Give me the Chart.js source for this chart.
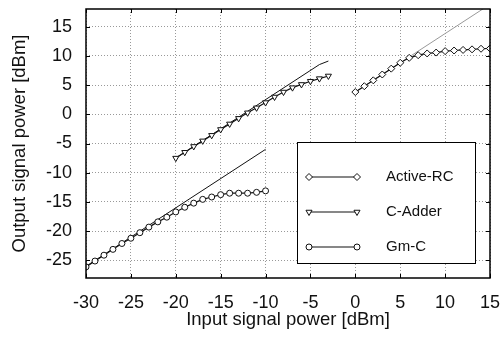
<!DOCTYPE html>
<html>
<head>
<meta charset="utf-8">
<script src="https://cdn.jsdelivr.net/npm/chart.js@4"></script>
<style>
  html, body { margin: 0; padding: 0; background: #fff; }
</style>
</head>
<body>
<canvas id="power-chart" width="503" height="342"></canvas>
<script>
// measured points, input power [dBm] vs output power [dBm]
const activeRcIn = [0, 1, 2, 3, 4, 5, 6, 7, 8, 9, 10, 11, 12, 13, 14, 15]
const activeRcOut = [3.8, 4.8, 5.8, 6.8, 7.8, 8.8, 9.65, 10.1, 10.4, 10.55, 10.8, 10.9, 11.0, 11.1, 11.2, 11.25]

const cAdderIn = [-20, -19, -18, -17, -16, -15, -14, -13, -12, -11, -10, -9, -8, -7, -6, -5, -4, -3]
const cAdderOut = [-7.5, -6.5, -5.5, -4.55, -3.6, -2.6, -1.65, -0.7, 0.25, 1.1, 2.0, 2.95, 3.8, 4.55, 5.1, 5.65, 6.1, 6.55]

const gmcIn = [-30, -29, -28, -27, -26, -25, -24, -23, -22, -21, -20, -19, -18, -17, -16, -15, -14, -13, -12, -11, -10]
const gmcOut = [-26.1, -25.1, -24.1, -23.1, -22.1, -21.2, -20.25, -19.3, -18.4, -17.6, -16.7, -15.9, -15.2, -14.55, -14.15, -13.75, -13.5, -13.5, -13.5, -13.35, -13.1]

// ideal (linear) responses
const activeRcIdealIn = [0, 15]
const activeRcIdealOut = [3.8, 18.8]
const cAdderIdealIn = [-20, -4, -3]
const cAdderIdealOut = [-7.5, 8.5, 9.1]
const gmcIdealIn = [-30, -10]
const gmcIdealOut = [-26, -6]

const xTicks = [-30, -25, -20, -15, -10, -5, 0, 5, 10, 15]
const yTicks = [-25, -20, -15, -10, -5, 0, 5, 10, 15]

const seriesNames = ['Active-RC', 'C-Adder', 'Gm-C']

const FONT = 'Liberation Sans, Arial, sans-serif'

function pairs(xs, ys) {
  return xs.map((x, i) => ({ x: x, y: ys[i] }))
}

function measured(label, xs, ys, style, radius, rotation) {
  return {
    label: label,
    data: pairs(xs, ys),
    showLine: true,
    borderColor: '#111',
    borderWidth: 1.2,
    pointStyle: style,
    pointRotation: rotation,
    pointRadius: radius,
    pointBackgroundColor: '#fff',
    pointBorderColor: '#111',
    pointBorderWidth: 1,
    order: 1
  }
}

function ideal(xs, ys, color) {
  return {
    label: 'ideal',
    data: pairs(xs, ys),
    showLine: true,
    borderColor: color,
    borderWidth: 1,
    pointRadius: 0,
    order: 2
  }
}

const datasets = [
  measured(seriesNames[0], activeRcIn, activeRcOut, 'rectRot', 3.5, 0),
  measured(seriesNames[1], cAdderIn, cAdderOut, 'triangle', 3.5, 180),
  measured(seriesNames[2], gmcIn, gmcOut, 'circle', 3, 0),
  ideal(activeRcIdealIn, activeRcIdealOut, '#999'),
  ideal(cAdderIdealIn, cAdderIdealOut, '#111'),
  ideal(gmcIdealIn, gmcIdealOut, '#111')
]

function noPadding(scale) {
  scale.paddingLeft = 0
  scale.paddingRight = 0
  scale.paddingTop = 0
  scale.paddingBottom = 0
}

// box around the plot with inward tick marks
const framePlugin = {
  id: 'frame',
  afterDatasetsDraw(chart) {
    const ctx = chart.ctx
    const a = chart.chartArea
    const xs = chart.scales.x
    const ys = chart.scales.y
    ctx.save()
    ctx.strokeStyle = '#000'
    ctx.lineWidth = 1
    ctx.beginPath()
    xTicks.forEach(v => {
      const px = Math.round(xs.getPixelForValue(v)) + 0.5
      ctx.moveTo(px, a.bottom); ctx.lineTo(px, a.bottom - 4)
      ctx.moveTo(px, a.top); ctx.lineTo(px, a.top + 4)
    })
    yTicks.forEach(v => {
      const py = Math.round(ys.getPixelForValue(v)) + 0.5
      ctx.moveTo(a.left, py); ctx.lineTo(a.left + 4, py)
      ctx.moveTo(a.right, py); ctx.lineTo(a.right - 4, py)
    })
    ctx.stroke()
    ctx.lineWidth = 1.5
    ctx.strokeRect(a.left, a.top, a.right - a.left, a.bottom - a.top)
    ctx.restore()
  }
}

// legend box in the lower right corner of the plot
const legendPlugin = {
  id: 'boxLegend',
  afterDraw(chart) {
    const ctx = chart.ctx
    const a = chart.chartArea
    const w = 178, h = 121
    const left = a.right - 15 - w
    const top = a.bottom - 15 - h
    ctx.save()
    ctx.fillStyle = '#fff'
    ctx.fillRect(left, top, w, h)
    ctx.strokeStyle = '#000'
    ctx.lineWidth = 1
    ctx.strokeRect(left + 0.5, top + 0.5, w, h)
    seriesNames.forEach((name, i) => {
      const ds = chart.data.datasets[i]
      const y = Math.round(top + 34.5 + i * 35)
      const x1 = left + 12, x2 = left + 60
      ctx.strokeStyle = '#111'
      ctx.lineWidth = 1.2
      ctx.beginPath()
      ctx.moveTo(x1, y); ctx.lineTo(x2, y)
      ctx.stroke()
      ctx.fillStyle = '#fff'
      ctx.lineWidth = 1
      const opts = { pointStyle: ds.pointStyle, rotation: ds.pointRotation, radius: ds.pointRadius, borderWidth: 1 }
      Chart.helpers.drawPoint(ctx, opts, x1, y)
      Chart.helpers.drawPoint(ctx, opts, x2, y)
      ctx.fillStyle = '#111'
      ctx.font = '15px ' + FONT
      ctx.textBaseline = 'middle'
      ctx.textAlign = 'left'
      ctx.fillText(name, left + 89, y)
    })
    ctx.restore()
  }
}

const config = {
  type: 'scatter',
  data: { datasets: datasets },
  options: {
    responsive: false,
    animation: false,
    layout: {
      padding: { top: 9, right: 13, left: 0, bottom: 0 }
    },
    plugins: {
      legend: { display: false },
      tooltip: { enabled: false }
    },
    scales: {
      x: {
        type: 'linear',
        min: -30,
        max: 15,
        afterFit: (scale) => { scale.height = 64; noPadding(scale) },
        grid: { color: '#999', drawTicks: false },
        border: { display: false, dash: [1, 2] },
        ticks: {
          stepSize: 5,
          padding: 14,
          color: '#111',
          font: { family: FONT, size: 18 }
        },
        title: {
          display: true,
          text: 'Input signal power [dBm]',
          color: '#111',
          padding: { top: 0, bottom: 11 },
          font: { family: FONT, size: 18.5 }
        }
      },
      y: {
        type: 'linear',
        min: -28,
        max: 18,
        afterFit: (scale) => { scale.width = 86; noPadding(scale) },
        grid: { color: '#999', drawTicks: false },
        border: { display: false, dash: [1, 2] },
        ticks: {
          stepSize: 5,
          includeBounds: false,
          padding: 14,
          color: '#111',
          font: { family: FONT, size: 18 }
        },
        title: {
          display: true,
          text: 'Output signal power [dBm]',
          color: '#111',
          padding: { top: 9, bottom: 0 },
          font: { family: FONT, size: 18.5 }
        }
      }
    }
  },
  plugins: [framePlugin, legendPlugin]
}

const chartPower = new Chart(document.getElementById('power-chart').getContext('2d'), config)
</script>
</body>
</html>
